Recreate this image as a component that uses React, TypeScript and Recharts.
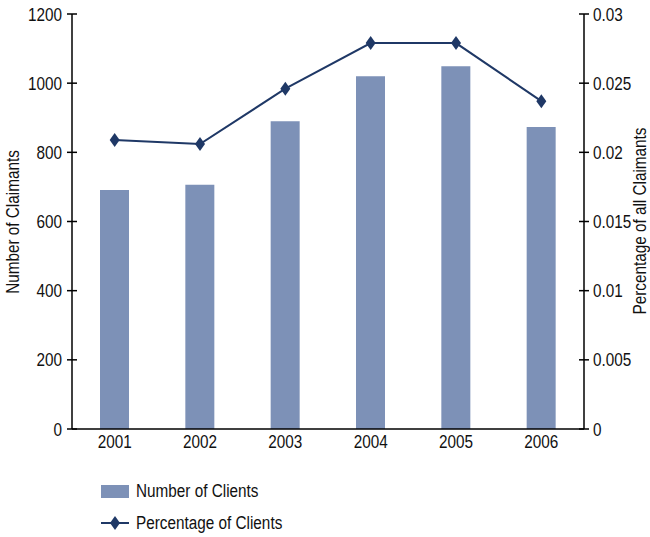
import React from "react"
import { ComposedChart, Bar, Line, XAxis, YAxis } from "recharts"

const years = ["2001", "2002", "2003", "2004", "2005", "2006"]
const clients = [691, 706, 890, 1020, 1049, 873]
const percentages = [0.0209, 0.0206, 0.0246, 0.0279, 0.0279, 0.0237]
const leftTicks = [0, 200, 400, 600, 800, 1000, 1200]
const rightTicks = [0, 0.005, 0.01, 0.015, 0.02, 0.025, 0.03]

const data = years.map((year, i) => ({ year, clients: clients[i], pct: percentages[i] }))

const FONT = "'Liberation Sans', Arial, sans-serif"
const FS = 18
const SQUEEZE = 0.85
const BAR_COLOR = "#7d91b7"
const LINE_COLOR = "#1f3866"

// condensed-looking text: Liberation Sans squeezed horizontally
function NText({ x, y, anchor = "start", rotate = 0, children }: any) {
  return (
    <text
      transform={`translate(${x} ${y}) rotate(${rotate}) scale(${SQUEEZE} 1)`}
      textAnchor={anchor}
      fontSize={FS}
      fill="#111"
      fontFamily={FONT}
    >
      {children}
    </text>
  )
}

function Diamond({ cx, cy }: any) {
  if (cx == null || cy == null) return null
  return <polygon points={`${cx},${cy - 7} ${cx + 5},${cy} ${cx},${cy + 7} ${cx - 5},${cy}`} fill={LINE_COLOR} />
}

function LeftTick({ x, y, payload }: any) {
  return (
    <g>
      <line x1={x + 5} x2={x + 15} y1={y} y2={y} stroke="#000" strokeWidth={1.5} />
      <NText x={x} y={y + 6.5} anchor="end">{payload.value}</NText>
    </g>
  )
}

function RightTick({ x, y, payload }: any) {
  return (
    <g>
      <line x1={x - 14} x2={x - 4} y1={y} y2={y} stroke="#000" strokeWidth={1.5} />
      <NText x={x} y={y + 6.5} anchor="start">{payload.value}</NText>
    </g>
  )
}

function BottomTick({ x, y, payload }: any) {
  return <NText x={x} y={y + 13} anchor="middle">{payload.value}</NText>
}

const legendText: React.CSSProperties = {
  display: "inline-block",
  transform: `scaleX(${SQUEEZE})`,
  transformOrigin: "left center",
  whiteSpace: "nowrap",
}

export default function App() {
  return (
    <div style={{ position: "absolute", left: 0, top: 0, width: 650, height: 537, background: "#fff", fontFamily: FONT }}>
      <ComposedChart width={650} height={537} data={data} margin={{ top: 14, right: 0, bottom: 78, left: 0 }}>
        <XAxis
          dataKey="year"
          tickLine={false}
          tickSize={0}
          tickMargin={6}
          height={30}
          stroke="#000"
          strokeWidth={1.5}
          tick={<BottomTick />}
        />
        <YAxis
          yAxisId="left"
          domain={[0, 1200]}
          ticks={leftTicks}
          width={72}
          tickSize={5}
          tickMargin={5}
          tickLine={false}
          stroke="#000"
          strokeWidth={1.5}
          tick={<LeftTick />}
          label={{
            content: () => (
              <NText x={19} y={222} anchor="middle" rotate={-90}>Number of Claimants</NText>
            ),
          }}
        />
        <YAxis
          yAxisId="right"
          orientation="right"
          domain={[0, 0.03]}
          ticks={rightTicks}
          width={66}
          tickSize={5}
          tickMargin={4}
          tickLine={false}
          stroke="#000"
          strokeWidth={1.5}
          tick={<RightTick />}
          label={{
            content: () => (
              <NText x={646} y={221} anchor="middle" rotate={-90}>Percentage of all Claimants</NText>
            ),
          }}
        />
        <Bar yAxisId="left" dataKey="clients" fill={BAR_COLOR} barSize={29} isAnimationActive={false} />
        <Line
          yAxisId="right"
          dataKey="pct"
          type="linear"
          stroke={LINE_COLOR}
          strokeWidth={2}
          dot={<Diamond />}
          activeDot={false}
          isAnimationActive={false}
        />
      </ComposedChart>
      <div style={{ position: "absolute", left: 101, top: 481, fontSize: FS, color: "#111", lineHeight: "20px" }}>
        <div style={{ display: "flex", alignItems: "center", height: 20 }}>
          <div style={{ width: 28, height: 13, background: BAR_COLOR, marginRight: 7 }} />
          <span style={legendText}>Number of Clients</span>
        </div>
        <div style={{ display: "flex", alignItems: "center", height: 20, marginTop: 12 }}>
          <svg width={28} height={16} style={{ marginRight: 7 }}>
            <line x1={0} x2={28} y1={8} y2={8} stroke={LINE_COLOR} strokeWidth={2} />
            <polygon points="14,1 19,8 14,15 9,8" fill={LINE_COLOR} />
          </svg>
          <span style={legendText}>Percentage of Clients</span>
        </div>
      </div>
    </div>
  )
}
